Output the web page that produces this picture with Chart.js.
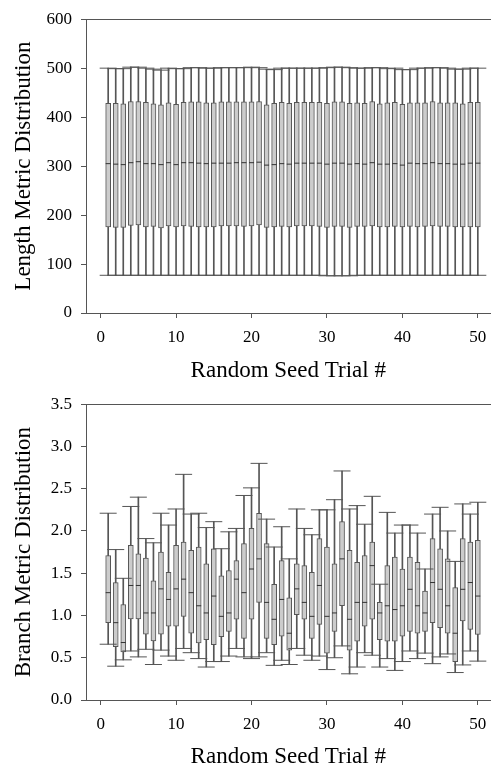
<!DOCTYPE html>
<html>
<head>
<meta charset="utf-8">
<script src="https://cdn.jsdelivr.net/npm/chart.js@4"></script>
<style>
  html, body { margin: 0; padding: 0; background: #fff; }
  #wrap { position: relative; width: 500px; height: 771px; }
  canvas { position: absolute; left: 0; }
  #top-chart { top: 0; }
  #bottom-chart { top: 385px; }
</style>
</head>
<body>
<div id="wrap">
  <canvas id="top-chart" width="500" height="385"></canvas>
  <canvas id="bottom-chart" width="500" height="386"></canvas>
</div>
<script>
// ── Data ──

const trials = [1, 2, 3, 4, 5, 6, 7, 8, 9, 10, 11, 12, 13, 14, 15, 16, 17, 18, 19, 20,
  21, 22, 23, 24, 25, 26, 27, 28, 29, 30, 31, 32, 33, 34, 35, 36, 37, 38, 39, 40,
  41, 42, 43, 44, 45, 46, 47, 48, 49, 50];

const xTickValues = [0, 10, 20, 30, 40, 50];
const xTickLabels = ['0', '10', '20', '30', '40', '50'];

// Length metric (top panel)
const lengthMin = [77, 77, 77, 77, 77, 77, 77, 77, 77, 77, 77, 77, 77, 77, 77, 77, 77, 77, 77, 77,
  77, 77, 77, 77, 77, 77, 77, 77, 77, 76, 76, 76, 76, 77, 77, 77, 77, 77, 77, 77,
  77, 77, 77, 77, 77, 77, 77, 77, 77, 77];
const lengthQ1 = [176, 175, 175, 179, 180, 176, 177, 174, 178, 176, 178, 177, 176, 176, 176, 178, 178, 178, 177, 178,
  180, 175, 176, 177, 176, 178, 178, 178, 177, 175, 177, 177, 175, 177, 177, 178, 176, 176, 177, 176,
  177, 176, 177, 178, 177, 177, 176, 176, 176, 176];
const lengthMedian = [305, 304, 303, 307, 309, 305, 305, 303, 307, 303, 307, 307, 306, 305, 306, 306, 306, 307, 307, 307,
  308, 302, 303, 305, 304, 306, 306, 306, 306, 304, 306, 306, 304, 305, 304, 307, 304, 304, 305, 302,
  306, 305, 305, 307, 305, 305, 304, 304, 306, 306];
const lengthQ3 = [428, 428, 427, 432, 432, 430, 427, 425, 429, 426, 430, 431, 431, 429, 429, 431, 431, 431, 431, 431,
  432, 425, 428, 430, 428, 430, 430, 430, 430, 428, 431, 431, 428, 429, 428, 432, 427, 429, 430, 426,
  429, 429, 429, 432, 429, 429, 429, 427, 430, 430];
const lengthMax = [500, 499, 499, 502, 502, 500, 498, 496, 500, 499, 499, 501, 501, 500, 500, 501, 501, 501, 501, 502,
  501, 498, 497, 500, 500, 500, 500, 500, 500, 501, 502, 502, 501, 500, 500, 501, 501, 499, 500, 497,
  497, 500, 500, 501, 501, 500, 498, 498, 500, 500];
const lengthTicks = [0, 100, 200, 300, 400, 500, 600];
const lengthTickLabels = ['0', '100', '200', '300', '400', '500', '600'];

// Branch metric (bottom panel)
const branchMin = [0.66, 0.40, 0.475, 0.58, 0.51, 0.60, 0.42, 0.59, 0.52, 0.47,
  0.61, 0.56, 0.49, 0.39, 0.455, 0.455, 0.52, 0.61, 0.51, 0.49,
  0.51, 0.56, 0.41, 0.47, 0.42, 0.61, 0.53, 0.47, 0.52, 0.36,
  0.50, 0.64, 0.31, 0.39, 0.56, 0.53, 0.39, 0.49, 0.35, 0.455,
  0.58, 0.49, 0.555, 0.43, 0.51, 0.545, 0.325, 0.415, 0.58, 0.46];
const branchQ1 = [0.915, 0.63, 0.57, 0.96, 0.96, 0.78, 0.70, 0.78, 0.875, 0.875,
  0.99, 0.79, 0.675, 0.715, 0.655, 0.75, 0.81, 0.955, 0.73, 0.955,
  1.155, 0.73, 0.655, 0.755, 0.59, 1.01, 0.955, 0.73, 0.895, 0.555,
  0.81, 1.115, 0.59, 0.695, 0.875, 0.955, 0.715, 0.695, 0.695, 0.755,
  0.81, 0.79, 0.81, 0.915, 0.855, 0.79, 0.455, 0.935, 0.835, 0.775];
const branchMedian = [1.27, 0.915, 0.68, 1.355, 1.355, 1.03, 1.03, 1.315, 1.19, 1.315,
  1.43, 1.27, 1.115, 1.03, 1.23, 0.99, 1.03, 1.43, 1.27, 1.55,
  1.67, 1.155, 0.955, 1.19, 0.79, 1.315, 1.155, 0.99, 1.355, 0.99,
  1.03, 1.67, 0.955, 1.155, 1.155, 1.59, 1.03, 1.115, 1.07, 1.115,
  1.31, 1.115, 1.03, 1.39, 1.31, 1.115, 0.79, 1.31, 1.39, 1.23];
const branchQ3 = [1.71, 1.39, 1.13, 1.83, 1.73, 1.68, 1.41, 1.75, 1.51, 1.83,
  1.87, 1.77, 1.81, 1.61, 1.79, 1.47, 1.53, 1.65, 1.85, 2.03,
  2.21, 1.85, 1.37, 1.65, 1.21, 1.61, 1.59, 1.51, 1.91, 1.81,
  1.61, 2.11, 1.77, 1.63, 1.71, 1.87, 1.155, 1.59, 1.69, 1.55,
  1.69, 1.63, 1.29, 1.91, 1.79, 1.67, 1.33, 1.91, 1.87, 1.89];
const branchMax = [2.21, 1.78, 1.44, 2.29, 2.40, 1.91, 1.86, 2.21, 2.07, 2.26,
  2.67, 2.20, 2.21, 2.04, 2.11, 1.79, 1.99, 2.03, 2.42, 2.51,
  2.80, 2.14, 1.81, 2.05, 1.67, 2.26, 2.03, 1.955, 2.25, 2.25,
  2.37, 2.71, 2.26, 2.30, 2.08, 2.41, 1.37, 2.22, 1.975, 2.07,
  2.07, 1.975, 1.55, 2.20, 2.28, 2.00, 1.64, 2.32, 2.20, 2.34];
const branchTicks = [0, 0.5, 1, 1.5, 2, 2.5, 3, 3.5];
const branchTickLabels = ['0.0', '0.5', '1.0', '1.5', '2.0', '2.5', '3.0', '3.5'];

// ── Style ──

const FONT = '"Liberation Serif", "DejaVu Serif", serif';
const INK = '#555';
const BOX_FILL = '#cccccc';
const X_MIN = -1.94;
const X_MAX = 51.68;

// ── Box chart ──

function boxChart(id, cfg) {
  const ctx = document.getElementById(id).getContext('2d');
  const pts = arr => trials.map((t, i) => ({x: t, y: arr[i]}));

  return new Chart(ctx, {
    type: 'bar',
    data: {
      datasets: [
        { // medians
          type: 'scatter', data: pts(cfg.med), order: 1,
          pointStyle: 'line', pointRadius: 2.5, pointHoverRadius: 2.5,
          pointBorderColor: '#333', pointBorderWidth: 1,
        },
        { // whisker caps
          type: 'scatter', data: pts(cfg.max).concat(pts(cfg.min)), order: 1,
          pointStyle: 'line', pointRadius: 8.5, pointHoverRadius: 8.5,
          pointBorderColor: INK, pointBorderWidth: 1,
        },
        { // boxes q1..q3
          data: trials.map((t, i) => ({x: t, y: [cfg.q1[i], cfg.q3[i]]})), order: 2,
          backgroundColor: BOX_FILL, borderColor: INK, borderWidth: 1, borderSkipped: false,
          barThickness: 5, grouped: false,
        },
        { // whisker stems
          data: trials.map((t, i) => ({x: t, y: [cfg.min[i], cfg.max[i]]})), order: 3,
          backgroundColor: INK, borderWidth: 0, barThickness: 1, grouped: false,
        },
      ],
    },
    options: {
      responsive: false,
      animation: false,
      layout: { padding: { top: cfg.top, left: 0, right: 0, bottom: 0 } },
      plugins: { legend: { display: false }, tooltip: { enabled: false } },
      scales: {
        x: {
          type: 'linear', min: X_MIN, max: X_MAX, offset: false,
          grid: { drawOnChartArea: false, drawTicks: true, tickLength: 5, color: INK, offset: false },
          border: { color: INK },
          afterBuildTicks: s => { s.ticks = xTickValues.map(v => ({value: v})); },
          ticks: {
            callback: (v, i) => xTickLabels[i], color: '#000', padding: 9,
            font: { family: FONT, size: 17 }, maxRotation: 0, autoSkip: false,
          },
          title: {
            display: true, text: 'Random Seed Trial #', color: '#000',
            font: { family: FONT, size: 23 }, padding: { top: 0, bottom: 0 },
          },
          afterFit: s => { s.height = cfg.xAxisHeight; },
        },
        frame: {
          type: 'linear', position: 'top',
          grid: { display: false }, ticks: { display: false },
          border: { color: INK },
          afterFit: s => { s.height = 0; },
        },
        y: {
          type: 'linear', min: cfg.yMin, max: cfg.yMax,
          grid: { drawOnChartArea: false, drawTicks: true, tickLength: 5, color: INK },
          border: { color: INK },
          afterBuildTicks: s => { s.ticks = cfg.yTicks.map(v => ({value: v})); },
          ticks: {
            callback: (v, i) => cfg.yLabels[i], color: '#000', padding: 9,
            font: { family: FONT, size: 17 }, autoSkip: false,
          },
          title: {
            display: true, text: cfg.yTitle, color: '#000',
            font: { family: FONT, size: 23 }, padding: { top: 10, bottom: 0 },
          },
          afterFit: s => { s.width = 86; },
        },
      },
    },
  });
}

boxChart('top-chart', {
  min: lengthMin, q1: lengthQ1, med: lengthMedian, q3: lengthQ3, max: lengthMax,
  yMin: 0, yMax: 600, yTicks: lengthTicks, yLabels: lengthTickLabels,
  yTitle: 'Length Metric Distribution', top: 15, xAxisHeight: 72,
});

boxChart('bottom-chart', {
  min: branchMin, q1: branchQ1, med: branchMedian, q3: branchQ3, max: branchMax,
  yMin: 0, yMax: 3.5, yTicks: branchTicks, yLabels: branchTickLabels,
  yTitle: 'Branch Metric Distribution', top: 18, xAxisHeight: 71,
});
</script>
</body>
</html>
